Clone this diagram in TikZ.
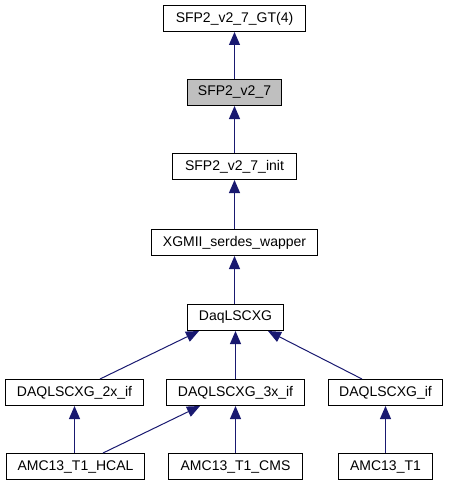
\documentclass[tikz,border=0pt]{standalone}
\usepackage{fontspec}
\setmainfont{Liberation Sans}
\usetikzlibrary{arrows.meta,calc}
\definecolor{edgeblue}{HTML}{191970}
\definecolor{boxgray}{HTML}{BFBFBF}
\begin{document}
\begin{tikzpicture}[x=0.75pt,y=-0.75pt,
  cls/.style={draw=black,line width=0.75pt,fill=white,inner sep=0pt,
    minimum height={26*0.75pt},font=\fontsize{10.5}{12}\selectfont},
  cur/.style={cls,fill=boxgray},
  inh/.style={draw=edgeblue,line width=0.75pt,
    {Triangle[length=9.75pt,width=8.25pt,fill=edgeblue]}-}]
\useasboundingbox (0,0) rectangle (449,485);
\node[cls,minimum width={142*0.75pt}] (gt) at (234.5,18.5) {SFP2\_v2\_7\_GT(4)};
\node[cur,minimum width={94*0.75pt}] (sfp) at (234.5,92.5) {SFP2\_v2\_7};
\node[cls,minimum width={124*0.75pt}] (init) at (234.5,166.5) {SFP2\_v2\_7\_init};
\node[cls,minimum width={166*0.75pt}] (xg) at (234.5,242.5) {XGMII\_serdes\_wapper};
\node[cls,minimum width={96*0.75pt}] (daq) at (235.5,317.5) {DaqLSCXG};
\node[cls,minimum width={138*0.75pt}] (x2) at (74.5,392.5) {DAQLSCXG\_2x\_if};
\node[cls,minimum width={138*0.75pt}] (x3) at (235.5,392.5) {DAQLSCXG\_3x\_if};
\node[cls,minimum width={114*0.75pt}] (xif) at (385.5,392.5) {DAQLSCXG\_if};
\node[cls,minimum width={138*0.75pt}] (hcal) at (75.5,466.5) {AMC13\_T1\_HCAL};
\node[cls,minimum width={134*0.75pt}] (cms) at (235.5,466.5) {AMC13\_T1\_CMS};
\node[cls,minimum width={94*0.75pt}] (t1) at (385.5,466.5) {AMC13\_T1};
\draw[inh] (gt.south) -- (sfp.north -| gt.south);
\draw[inh] (sfp.south) -- (init.north -| sfp.south);
\draw[inh] (init.south) -- (xg.north -| init.south);
\draw[inh] (xg.south) -- (daq.north -| xg.south);
\draw[inh] ($(daq.south west)+(12,0)$) -- ($(x2.north west)+(95,0)$);
\draw[inh] (daq.south -| x3.north) -- (x3.north);
\draw[inh] ($(daq.south east)+(-16,0)$) -- ($(xif.north west)+(34,0)$);
\draw[inh] (x2.south) -- (hcal.north -| x2.south);
\draw[inh] ($(x3.south west)+(34,0)$) -- ($(hcal.north west)+(97,0)$);
\draw[inh] (x3.south) -- (cms.north -| x3.south);
\draw[inh] (xif.south) -- (t1.north -| xif.south);
\end{tikzpicture}
\end{document}
